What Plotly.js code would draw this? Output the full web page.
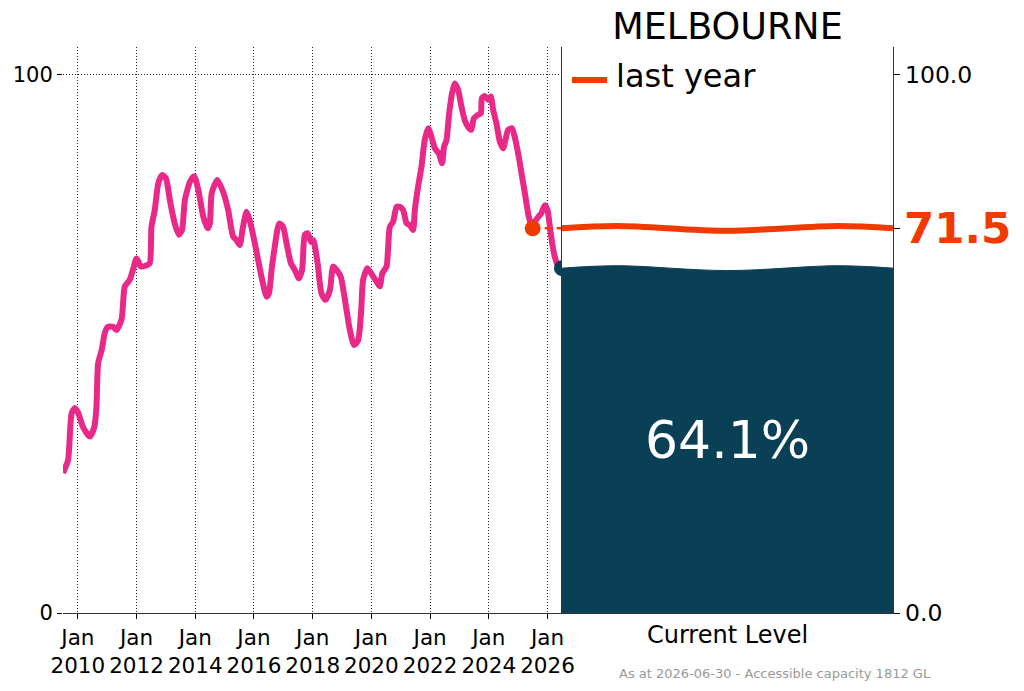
<!DOCTYPE html>
<html>
<head>
<meta charset="utf-8">
<script src="https://cdn.plot.ly/plotly-3.0.1.min.js"></script>
<style>
  body { margin: 0; background: #fff; }
  #chart { width: 1024px; height: 691px; }
</style>
</head>
<body>
<div id="chart"></div>
<script>
// storage level, % of accessible capacity
var dates = [
  '2009-06-30','2009-09-01','2009-10-15','2009-11-25','2010-01-05','2010-03-05','2010-05-30','2010-07-25',
  '2010-08-20','2010-09-10','2010-10-25','2010-12-01','2011-01-10','2011-03-15','2011-04-25','2011-06-28',
  '2011-08-08','2011-10-08','2011-11-18','2012-01-01','2012-02-25','2012-04-12','2012-06-12','2012-07-05',
  '2012-08-15','2012-09-28','2012-11-15','2013-01-01','2013-02-18','2013-04-20','2013-06-10','2013-07-20',
  '2013-08-25','2013-10-28','2013-12-18','2014-02-08','2014-04-10','2014-06-03','2014-07-01','2014-07-24',
  '2014-10-01','2014-12-13','2015-02-14','2015-04-16','2015-05-30','2015-07-08','2015-08-18','2015-10-01',
  '2015-11-10','2016-01-12','2016-02-22','2016-04-12','2016-06-06','2016-07-05','2016-08-08','2016-09-16',
  '2016-11-10','2016-12-28','2017-02-10','2017-04-05','2017-05-22','2017-07-12','2017-08-22','2017-09-25',
  '2017-10-30','2017-12-10','2018-01-08','2018-03-03','2018-04-20','2018-06-10','2018-08-03','2018-09-12',
  '2018-10-22','2018-12-16','2019-02-06','2019-04-08','2019-05-30','2019-07-20','2019-08-28','2019-09-20',
  '2019-11-13','2020-01-12','2020-03-06','2020-04-15','2020-05-15','2020-07-08','2020-07-26','2020-08-18',
  '2020-09-27','2020-11-10','2020-12-20','2021-01-30','2021-03-15','2021-04-24','2021-06-03','2021-06-25',
  '2021-08-04','2021-09-16','2021-10-26','2021-12-08','2022-01-18','2022-02-28','2022-04-20','2022-05-30',
  '2022-06-24','2022-07-24','2022-08-22','2022-10-01','2022-11-03','2022-12-16','2023-01-26','2023-03-08',
  '2023-04-16','2023-05-30','2023-06-28','2023-08-22','2023-09-24','2023-10-08','2023-11-14','2023-12-24',
  '2024-01-26','2024-02-24','2024-04-05','2024-05-18','2024-06-28','2024-07-26','2024-08-28','2024-10-15',
  '2024-11-18','2025-01-08','2025-02-18','2025-04-01','2025-05-12','2025-06-30','2025-07-26','2025-09-12',
  '2025-10-16','2025-11-28','2026-01-01','2026-01-30','2026-02-28','2026-04-01','2026-05-15','2026-06-30'
];
var levels = [
  26.0, 28.4, 37.1, 38.1, 37.2, 34.6, 32.8, 34.6,
  38.3, 46.4, 48.9, 52.0, 53.2, 53.2, 52.6, 54.5,
  60.7, 61.9, 63.8, 65.9, 64.4, 64.5, 65.0, 71.8,
  74.9, 79.9, 81.4, 80.8, 76.8, 72.4, 70.3, 71.2,
  76.8, 80.2, 81.2, 78.6, 73.7, 71.5, 72.4, 78.0,
  80.5, 78.3, 74.9, 70.0, 69.3, 68.4, 71.8, 74.6,
  73.0, 68.7, 65.6, 61.9, 58.8, 59.4, 63.8, 68.1,
  72.4, 71.8, 68.7, 65.0, 63.8, 62.2, 63.8, 70.3,
  70.6, 69.0, 69.3, 65.0, 59.4, 58.2, 60.0, 64.4,
  63.8, 62.5, 58.2, 52.6, 49.8, 50.7, 56.3, 61.9,
  64.1, 62.8, 61.6, 60.7, 63.1, 64.4, 67.5, 71.8,
  72.7, 75.5, 75.5, 74.9, 72.4, 72.1, 71.2, 74.9,
  79.2, 83.0, 87.9, 90.1, 88.5, 86.4, 85.4, 83.6,
  86.7, 87.9, 92.3, 96.6, 98.4, 97.2, 94.1, 91.6,
  90.4, 89.8, 91.9, 92.6, 92.9, 95.7, 96.1, 95.4,
  96.0, 93.5, 91.0, 87.6, 86.4, 87.9, 89.8, 90.1,
  88.5, 84.8, 81.1, 77.4, 73.7, 71.5, 72.7, 73.7,
  74.3, 75.8, 74.9, 71.8, 68.7, 66.2, 64.4, 64.1
];

var city = 'MELBOURNE';
var asAt = '2026-06-30';
var capacityGL = 1812;
var lastYearDate = '2025-06-30';
var lastYearLevel = 71.5;
var currentLevel = 64.1;
var tickYears = [2010, 2012, 2014, 2016, 2018, 2020, 2022, 2024, 2026];

var pink = '#e8298a';
var orange = '#f03a00';
var teal = '#0a4056';
var yTop = 105.2;

// wavy water surface for the tank (decoration only)
var waveX = [0, 1/6, 1/2, 5/6, 1];
var waveOff = [0, 0.45, -0.45, 0.45, 0];

var tickvals = tickYears.map(function(y) { return y + '-01-01'; });
var ticktext = tickYears.map(function(y) { return 'Jan<br>' + y; });

var data = [
  {
    // history
    x: dates, y: levels,
    type: 'scatter', mode: 'lines',
    line: {color: pink, width: 6, shape: 'spline', smoothing: 0.6},
    xaxis: 'x', yaxis: 'y'
  },
  {
    // dashed line from last year to the tank
    x: [lastYearDate, asAt], y: [lastYearLevel, lastYearLevel],
    type: 'scatter', mode: 'lines',
    line: {color: orange, width: 2.5, dash: '7px,5px'},
    xaxis: 'x', yaxis: 'y'
  },
  {
    x: [lastYearDate], y: [lastYearLevel],
    type: 'scatter', mode: 'markers',
    marker: {color: orange, size: 16},
    xaxis: 'x', yaxis: 'y'
  },
  {
    // clipped by the plot edge, so only half shows (as in the tank picture)
    x: [asAt], y: [currentLevel],
    type: 'scatter', mode: 'markers',
    marker: {color: teal, size: 16},
    cliponaxis: true,
    xaxis: 'x', yaxis: 'y'
  },
  {
    // tank water
    x: waveX, y: waveOff.map(function(d) { return currentLevel + d; }),
    type: 'scatter', mode: 'lines', fill: 'tozeroy',
    fillcolor: teal,
    line: {color: teal, width: 1, shape: 'spline'},
    xaxis: 'x2', yaxis: 'y2'
  },
  {
    // last year level
    x: waveX, y: waveOff.map(function(d) { return lastYearLevel + d; }),
    type: 'scatter', mode: 'lines',
    line: {color: orange, width: 6, shape: 'spline'},
    xaxis: 'x2', yaxis: 'y2'
  }
];

// pixel helpers for the paper coords
var L = 63, R = 893, T = 47, B = 613;
function px(x) { return (x - L) / (R - L); }
function py(y) { return (B - y) / (B - T); }
var split = px(562);

var layout = {
  width: 1024,
  height: 691,
  showlegend: false,
  paper_bgcolor: '#fff',
  plot_bgcolor: 'rgba(0,0,0,0)',
  margin: {l: L, r: 1024 - R, t: T, b: 691 - B, pad: 0},
  font: {family: 'DejaVu Sans', size: 20, color: '#000'},
  title: {
    text: city,
    x: 727.5 / 1024, xanchor: 'center',
    y: 1 - 26 / 691, yanchor: 'middle',
    font: {family: 'DejaVu Sans', size: 36.5, color: '#000'}
  },
  xaxis: {
    type: 'date',
    domain: [0, split],
    range: ['2009-06-30', asAt],
    tickvals: tickvals, ticktext: ticktext,
    tickfont: {size: 21.5},
    ticks: 'outside', ticklen: 5, tickcolor: '#000',
    showgrid: true, gridcolor: '#222', gridwidth: 1, griddash: '1px,2px',
    showline: true, linecolor: '#333', linewidth: 1.3,
    zeroline: false, fixedrange: true
  },
  yaxis: {
    domain: [0, 1],
    range: [0, yTop],
    tickvals: [0, 100], ticktext: ['0', '100'],
    tickfont: {size: 21},
    ticks: 'outside', ticklen: 5, tickcolor: '#000',
    showgrid: true, gridcolor: '#222', gridwidth: 1, griddash: '1px,2px',
    showline: false, zeroline: false, fixedrange: true
  },
  xaxis2: {
    domain: [split, 1],
    range: [0, 1],
    anchor: 'y2',
    tickvals: [0.5], ticktext: ['Current Level'],
    tickfont: {size: 24},
    ticks: '',
    showgrid: false, zeroline: false,
    showline: true, linecolor: '#333', linewidth: 1.3,
    fixedrange: true
  },
  yaxis2: {
    anchor: 'x2', side: 'right',
    range: [0, yTop],
    tickvals: [0, lastYearLevel, 100], ticktext: ['0.0', '', '100.0'],
    tickfont: {size: 23.5},
    ticks: 'outside', ticklen: 6, tickcolor: '#000',
    showgrid: false, zeroline: false,
    showline: true, mirror: true, linecolor: '#333', linewidth: 1.3,
    fixedrange: true
  },
  shapes: [
    {type: 'line', xref: 'paper', yref: 'paper',
     x0: px(572), x1: px(607), y0: py(80), y1: py(80),
     line: {color: orange, width: 6}}
  ],
  annotations: [
    {xref: 'paper', yref: 'paper', x: px(614), y: py(76),
     xanchor: 'left', yanchor: 'middle', showarrow: false,
     text: 'last year', font: {family: 'DejaVu Sans', size: 32, color: '#000'}},
    {xref: 'paper', yref: 'y2', x: px(902), y: lastYearLevel,
     xanchor: 'left', yanchor: 'middle', showarrow: false,
     text: '<b>' + lastYearLevel.toFixed(1) + '</b>',
     font: {family: 'DejaVu Sans', size: 43.5, color: orange}},
    {xref: 'x2', yref: 'y2', x: 0.5, y: 32.2,
     xanchor: 'center', yanchor: 'middle', showarrow: false,
     text: currentLevel.toFixed(1) + '%',
     font: {family: 'DejaVu Sans', size: 52, color: '#fff'}},
    {xref: 'paper', yref: 'paper', x: px(775), y: py(673),
     xanchor: 'center', yanchor: 'middle', showarrow: false,
     text: 'As at ' + asAt + ' - Accessible capacity ' + capacityGL + ' GL',
     font: {family: 'DejaVu Sans', size: 13, color: '#999'}}
  ]
};

var options = {
  staticPlot: true,
  displayModeBar: false
};

Plotly.newPlot('chart', data, layout, options);
</script>
</body>
</html>
